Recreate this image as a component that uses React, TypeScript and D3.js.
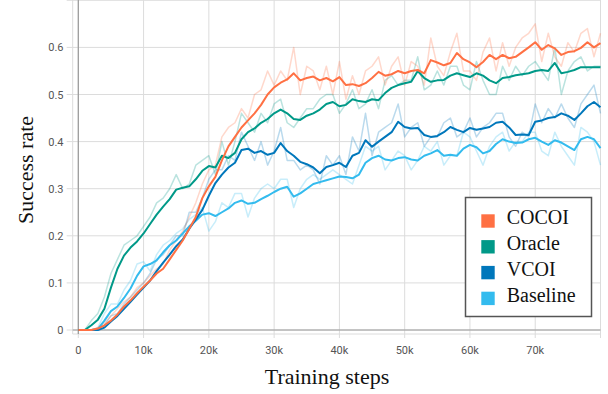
import React from 'react';
import * as d3 from 'd3';

const seriesNames = ['COCOI', 'Oracle', 'VCOI', 'Baseline'];
const seriesColors = ['#ff7043', '#009988', '#0077bb', '#33bbee'];

const xTicks = [0, 10000, 20000, 30000, 40000, 50000, 60000, 70000];
const xTickLabels = ['0', '10k', '20k', '30k', '40k', '50k', '60k', '70k'];
const xGrid = [0, 10000, 20000, 30000, 40000, 50000, 60000, 70000, 80000];
const yTicks = [0, 0.1, 0.2, 0.3, 0.4, 0.5, 0.6];
const yTickLabels = ['0', '0.1', '0.2', '0.3', '0.4', '0.5', '0.6'];
const yGrid = [0, 0.1, 0.2, 0.3, 0.4, 0.5, 0.6, 0.7];

// training steps (every 1k, 0 .. 80k)
const steps = d3.range(0, 81).map((k) => k * 1000);

const cocoiSmooth = [0, 0, 0, 0.003, 0.01, 0.02, 0.033, 0.05, 0.063, 0.078, 0.092, 0.105, 0.12, 0.13, 0.15, 0.17, 0.19, 0.215, 0.24, 0.28, 0.305, 0.325, 0.36, 0.39, 0.41, 0.43, 0.445, 0.46, 0.478, 0.5, 0.515, 0.525, 0.532, 0.545, 0.53, 0.535, 0.538, 0.53, 0.535, 0.528, 0.537, 0.52, 0.522, 0.518, 0.524, 0.535, 0.548, 0.54, 0.543, 0.55, 0.545, 0.55, 0.552, 0.545, 0.573, 0.568, 0.562, 0.567, 0.588, 0.575, 0.568, 0.558, 0.569, 0.584, 0.575, 0.584, 0.577, 0.58, 0.59, 0.6, 0.611, 0.595, 0.605, 0.598, 0.584, 0.59, 0.592, 0.599, 0.611, 0.6, 0.609];
const cocoiRaw = [0, 0, 0, 0.005, 0.015, 0.03, 0.045, 0.06, 0.07, 0.09, 0.1, 0.115, 0.13, 0.14, 0.17, 0.19, 0.21, 0.24, 0.27, 0.31, 0.34, 0.35, 0.41, 0.43, 0.44, 0.47, 0.45, 0.5, 0.51, 0.55, 0.52, 0.55, 0.53, 0.6, 0.5, 0.56, 0.55, 0.51, 0.56, 0.5, 0.57, 0.49, 0.54, 0.5, 0.55, 0.56, 0.58, 0.52, 0.56, 0.58, 0.52, 0.57, 0.56, 0.52, 0.62, 0.56, 0.54, 0.59, 0.63, 0.55, 0.55, 0.53, 0.59, 0.62, 0.55, 0.61, 0.56, 0.6, 0.62, 0.63, 0.65, 0.57, 0.63, 0.58, 0.56, 0.61, 0.59, 0.63, 0.64, 0.58, 0.63];

const oracleSmooth = [0, 0, 0.01, 0.022, 0.045, 0.09, 0.13, 0.158, 0.175, 0.188, 0.205, 0.225, 0.245, 0.262, 0.278, 0.298, 0.302, 0.305, 0.32, 0.338, 0.348, 0.345, 0.37, 0.365, 0.376, 0.405, 0.42, 0.428, 0.44, 0.448, 0.46, 0.468, 0.46, 0.448, 0.446, 0.455, 0.46, 0.468, 0.48, 0.484, 0.475, 0.478, 0.49, 0.486, 0.484, 0.49, 0.488, 0.503, 0.514, 0.52, 0.524, 0.527, 0.55, 0.535, 0.527, 0.53, 0.531, 0.54, 0.545, 0.541, 0.537, 0.545, 0.54, 0.53, 0.524, 0.535, 0.537, 0.541, 0.543, 0.545, 0.55, 0.552, 0.55, 0.567, 0.545, 0.548, 0.552, 0.558, 0.558, 0.558, 0.558];
const oracleRaw = [0, 0, 0.02, 0.035, 0.07, 0.12, 0.15, 0.18, 0.19, 0.2, 0.22, 0.24, 0.27, 0.28, 0.3, 0.33, 0.3, 0.31, 0.35, 0.36, 0.37, 0.33, 0.4, 0.35, 0.4, 0.46, 0.44, 0.42, 0.46, 0.44, 0.48, 0.49, 0.44, 0.43, 0.45, 0.47, 0.47, 0.49, 0.5, 0.5, 0.46, 0.48, 0.51, 0.47, 0.48, 0.51, 0.47, 0.53, 0.54, 0.52, 0.53, 0.53, 0.58, 0.51, 0.52, 0.55, 0.52, 0.56, 0.56, 0.52, 0.51, 0.57, 0.53, 0.5, 0.5, 0.56, 0.53, 0.56, 0.54, 0.56, 0.57, 0.55, 0.53, 0.6, 0.5, 0.55, 0.57, 0.58, 0.55, 0.56, 0.56];

const vcoiSmooth = [0, 0, 0, 0, 0.005, 0.018, 0.03, 0.045, 0.06, 0.075, 0.09, 0.105, 0.125, 0.143, 0.16, 0.178, 0.192, 0.215, 0.235, 0.255, 0.285, 0.312, 0.33, 0.345, 0.355, 0.382, 0.385, 0.376, 0.38, 0.372, 0.376, 0.397, 0.38, 0.37, 0.357, 0.352, 0.345, 0.333, 0.346, 0.35, 0.355, 0.346, 0.37, 0.376, 0.403, 0.389, 0.4, 0.41, 0.42, 0.442, 0.431, 0.428, 0.429, 0.414, 0.41, 0.412, 0.42, 0.431, 0.425, 0.42, 0.429, 0.425, 0.428, 0.431, 0.44, 0.442, 0.43, 0.414, 0.415, 0.414, 0.442, 0.445, 0.45, 0.452, 0.46, 0.455, 0.446, 0.46, 0.475, 0.484, 0.473];
const vcoiRaw = [0, 0, 0, 0, 0.01, 0.03, 0.035, 0.055, 0.07, 0.085, 0.1, 0.12, 0.15, 0.16, 0.18, 0.2, 0.2, 0.25, 0.25, 0.28, 0.32, 0.34, 0.34, 0.37, 0.36, 0.42, 0.39, 0.36, 0.4, 0.35, 0.38, 0.43, 0.36, 0.36, 0.34, 0.35, 0.34, 0.31, 0.37, 0.35, 0.37, 0.33, 0.41, 0.38, 0.46, 0.37, 0.42, 0.43, 0.44, 0.48, 0.41, 0.43, 0.44, 0.39, 0.41, 0.41, 0.44, 0.45, 0.41, 0.42, 0.45, 0.41, 0.43, 0.44, 0.46, 0.46, 0.41, 0.39, 0.42, 0.41, 0.48, 0.44, 0.47, 0.45, 0.48, 0.45, 0.43, 0.48, 0.5, 0.52, 0.46];

const baselineSmooth = [0, 0, 0, 0.002, 0.02, 0.04, 0.05, 0.068, 0.088, 0.115, 0.135, 0.14, 0.148, 0.165, 0.18, 0.19, 0.205, 0.22, 0.232, 0.245, 0.248, 0.242, 0.25, 0.258, 0.27, 0.275, 0.268, 0.27, 0.278, 0.285, 0.293, 0.3, 0.304, 0.283, 0.29, 0.3, 0.31, 0.314, 0.318, 0.322, 0.326, 0.325, 0.322, 0.33, 0.355, 0.365, 0.37, 0.362, 0.36, 0.365, 0.367, 0.362, 0.36, 0.37, 0.375, 0.382, 0.37, 0.372, 0.37, 0.385, 0.393, 0.388, 0.375, 0.38, 0.395, 0.405, 0.4, 0.397, 0.398, 0.405, 0.408, 0.4, 0.393, 0.403, 0.398, 0.39, 0.382, 0.405, 0.41, 0.405, 0.386];
const baselineRaw = [0, 0, 0, 0.005, 0.035, 0.055, 0.055, 0.085, 0.105, 0.14, 0.145, 0.125, 0.16, 0.18, 0.19, 0.205, 0.215, 0.235, 0.245, 0.26, 0.21, 0.23, 0.27, 0.26, 0.29, 0.29, 0.24, 0.28, 0.3, 0.31, 0.3, 0.32, 0.32, 0.26, 0.3, 0.32, 0.33, 0.32, 0.33, 0.34, 0.33, 0.32, 0.31, 0.35, 0.39, 0.38, 0.39, 0.34, 0.36, 0.38, 0.37, 0.34, 0.36, 0.39, 0.38, 0.4, 0.35, 0.37, 0.37, 0.42, 0.41, 0.38, 0.35, 0.39, 0.41, 0.42, 0.38, 0.4, 0.4, 0.42, 0.42, 0.38, 0.37, 0.42, 0.39, 0.37, 0.35, 0.43, 0.42, 0.4, 0.35];

const smoothSeries = [cocoiSmooth, oracleSmooth, vcoiSmooth, baselineSmooth];
const rawSeries = [cocoiRaw, oracleRaw, vcoiRaw, baselineRaw];

const W = 608;
const H = 394;

export default function App() {
  const x = d3.scaleLinear().domain([0, 80000]).range([78.3, 600.5]);
  const y = d3.scaleLinear().domain([0, 0.7]).range([330, 0.3]);
  const frameLeft = x(-860);
  const frameBottom = y(-0.0085);

  const line = d3
    .line<number>()
    .x((_, i) => x(steps[i]))
    .y((d) => y(d));

  const order = [3, 2, 1, 0];
  const tickFont = 'Roboto, "Liberation Sans", Arial, sans-serif';
  const serif = '"Liberation Serif", "Times New Roman", serif';

  return (
    <svg
      width={W}
      height={H}
      style={{ position: 'absolute', left: 0, top: 0, background: '#fff' }}
    >
      <rect x={0} y={0} width={W} height={H} fill="#fff" />
      {/* grid */}
      {xGrid.map((t) => (
        <line
          key={'xg' + t}
          x1={x(t)}
          x2={x(t)}
          y1={0}
          y2={frameBottom + 4}
          stroke="#dcdcdc"
          strokeWidth={1}
        />
      ))}
      {yGrid.map((t) => (
        <line
          key={'yg' + t}
          x1={frameLeft - 6}
          x2={x(80000)}
          y1={y(t)}
          y2={y(t)}
          stroke="#dcdcdc"
          strokeWidth={1}
        />
      ))}
      {/* frame */}
      <line x1={frameLeft} x2={frameLeft} y1={0} y2={frameBottom} stroke="#dcdcdc" />
      <line x1={frameLeft} x2={x(80000)} y1={frameBottom} y2={frameBottom} stroke="#dcdcdc" />
      {/* zero axes */}
      <line x1={x(0)} x2={x(0)} y1={0} y2={frameBottom} stroke="#999" strokeWidth={1.2} />
      <line x1={frameLeft} x2={x(80000)} y1={y(0)} y2={y(0)} stroke="#999" strokeWidth={1.2} />

      {/* raw lines */}
      {order.map((s) => (
        <path
          key={'raw' + s}
          d={line(rawSeries[s]) || ''}
          fill="none"
          stroke={seriesColors[s]}
          strokeOpacity={0.27}
          strokeWidth={1.5}
          strokeLinejoin="round"
        />
      ))}
      {/* smoothed lines */}
      {order.map((s) => (
        <path
          key={'sm' + s}
          d={line(smoothSeries[s]) || ''}
          fill="none"
          stroke={seriesColors[s]}
          strokeWidth={2}
          strokeLinejoin="round"
        />
      ))}

      {/* tick labels */}
      {yTicks.map((t, i) => (
        <text
          key={'yt' + t}
          x={63.5}
          y={y(t) + 4}
          textAnchor="end"
          fontFamily={tickFont}
          fontSize={11}
          fill="#555"
        >
          {yTickLabels[i]}
        </text>
      ))}
      {xTicks.map((t, i) => (
        <text
          key={'xt' + t}
          x={x(t)}
          y={354}
          textAnchor="middle"
          fontFamily={tickFont}
          fontSize={11}
          fill="#555"
        >
          {xTickLabels[i]}
        </text>
      ))}

      {/* axis titles */}
      <text
        transform={`translate(33,170) rotate(-90)`}
        textAnchor="middle"
        fontFamily={serif}
        fontSize={22}
        fill="#111"
      >
        Success rate
      </text>
      <text
        x={327}
        y={384}
        textAnchor="middle"
        fontFamily={serif}
        fontSize={22}
        fill="#111"
      >
        Training steps
      </text>

      {/* legend */}
      <rect
        x={465.5}
        y={197.5}
        width={126}
        height={119}
        fill="#fff"
        stroke="#555"
        strokeWidth={1.5}
      />
      {seriesNames.map((name, i) => {
        const base = 224.3 + i * 25.8;
        return (
          <g key={'lg' + name}>
            <rect x={481.3} y={base - 10} width={13.4} height={13.4} fill={seriesColors[i]} />
            <text x={506.7} y={base} fontFamily={serif} fontSize={20} fill="#111">
              {name}
            </text>
          </g>
        );
      })}
    </svg>
  );
}
